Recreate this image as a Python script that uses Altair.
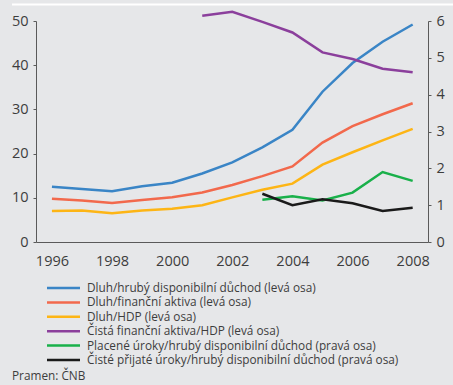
import altair as alt
import pandas as pd

years = list(range(1996, 2009))
years_r = list(range(2003, 2009))
years_p = list(range(2001, 2009))

s_blue = "Dluh/hrubý disponibilní důchod (levá osa)"
s_red = "Dluh/finanční aktiva (levá osa)"
s_yel = "Dluh/HDP (levá osa)"
s_pur = "Čistá finanční aktiva/HDP (levá osa)"
s_grn = "Placené úroky/hrubý disponibilní důchod (pravá osa)"
s_blk = "Čisté přijaté úroky/hrubý disponibilní důchod (pravá osa)"

debt_income = [12.5, 12.0, 11.5, 12.6, 13.4, 15.5, 18.0, 21.4, 25.4, 34.0, 40.5, 45.3, 49.2]
debt_assets = [9.8, 9.4, 8.8, 9.5, 10.1, 11.2, 12.9, 14.9, 17.1, 22.5, 26.2, 28.9, 31.4]
debt_gdp = [7.0, 7.1, 6.5, 7.1, 7.5, 8.3, 10.1, 11.8, 13.2, 17.5, 20.3, 23.0, 25.6]
net_assets = [51.2, 52.1, 49.8, 47.4, 42.9, 41.4, 39.2, 38.4]
paid_int = [1.15, 1.24, 1.13, 1.34, 1.90, 1.66]
net_int = [1.31, 1.00, 1.16, 1.05, 0.84, 0.93]

series_order = [s_blue, s_red, s_yel, s_pur, s_grn, s_blk]
colors = ["#3a85c6", "#f2694c", "#fdb515", "#8b3f9c", "#19b04a", "#1a1a1a"]

rows_l = []
for name, ys, vals in [(s_blue, years, debt_income), (s_red, years, debt_assets),
                       (s_yel, years, debt_gdp), (s_pur, years_p, net_assets)]:
    for y, v in zip(ys, vals):
        rows_l.append({"rok": y, "hodnota": v, "serie": name})
rows_r = []
for name, ys, vals in [(s_grn, years_r, paid_int), (s_blk, years_r, net_int)]:
    for y, v in zip(ys, vals):
        rows_r.append({"rok": y, "hodnota": v, "serie": name})

df_l = pd.DataFrame(rows_l)
df_r = pd.DataFrame(rows_r)
df_leg = pd.DataFrame({"serie": series_order})

FONT = "Open Sans"
TXT = "#3d3d3d"
AX = "#5a5a5a"

x_enc = alt.X("rok:Q", scale=alt.Scale(domain=[1995.47, 2008.51], nice=False, zero=False),
              axis=alt.Axis(values=list(range(1996, 2009, 2)), format="d", title=None, grid=False,
                            ticks=False, domainColor=AX, labelPadding=12, labelFontSize=14.5,
                            labelColor=TXT, labelFont=FONT))

color_enc = alt.Color("serie:N", scale=alt.Scale(domain=series_order, range=colors), legend=None)

left = alt.Chart(df_l).mark_line(strokeWidth=2.5).encode(
    x=x_enc,
    y=alt.Y("hodnota:Q", scale=alt.Scale(domain=[0, 50], nice=False),
            axis=alt.Axis(orient="left", values=[0, 10, 20, 30, 40, 50], title=None, grid=False,
                          tickSize=3, tickColor=AX, domainColor=AX, labelPadding=5,
                          labelFontSize=14.5, labelColor=TXT, labelFont=FONT)),
    color=color_enc,
    detail="serie:N",
)

right = alt.Chart(df_r).mark_line(strokeWidth=2.5).encode(
    x=x_enc,
    y=alt.Y("hodnota:Q", scale=alt.Scale(domain=[0, 6], nice=False),
            axis=alt.Axis(orient="right", values=[0, 1, 2, 3, 4, 5, 6], title=None, grid=False,
                          tickSize=3, tickColor=AX, domainColor=AX, labelPadding=5,
                          labelFontSize=14.5, labelColor=TXT, labelFont=FONT)),
    color=color_enc,
    detail="serie:N",
)

leg_y = alt.Y("serie:N", scale=alt.Scale(type="point", domain=series_order, range=[267, 339],
                                         padding=0),
              axis=None)
leg_sym = alt.Chart(df_leg).mark_rule(strokeWidth=2.5).encode(
    x=alt.value(11), x2=alt.value(44), y=leg_y, color=color_enc)
leg_txt = alt.Chart(df_leg).mark_text(align="left", baseline="middle", fontSize=11.8, font=FONT,
                                      color=TXT).encode(
    x=alt.value(51), y=leg_y, text="serie:N")

one = pd.DataFrame({"a": [0]})
top_line = alt.Chart(one).mark_rule(color="white", strokeWidth=2).encode(
    x=alt.value(-24), x2=alt.value(420), y=alt.value(-16.5))
source = alt.Chart(one).mark_text(align="left", baseline="middle", fontSize=11.8, font=FONT,
                                  color=TXT).encode(
    x=alt.value(-24), y=alt.value(355), text=alt.value("Pramen:  ČNB"))

chart = alt.layer(left, right, leg_sym, leg_txt, top_line, source).resolve_scale(
    y="independent").properties(
    width=392, height=221,
    padding={"left": 36, "top": 21, "right": 25, "bottom": 143},
    autosize=alt.AutoSizeParams(type="none"),
    background="#e6e7e9",
).configure_view(stroke=None)

chart.save("out.html", embed_options={"renderer": "svg", "actions": False})
